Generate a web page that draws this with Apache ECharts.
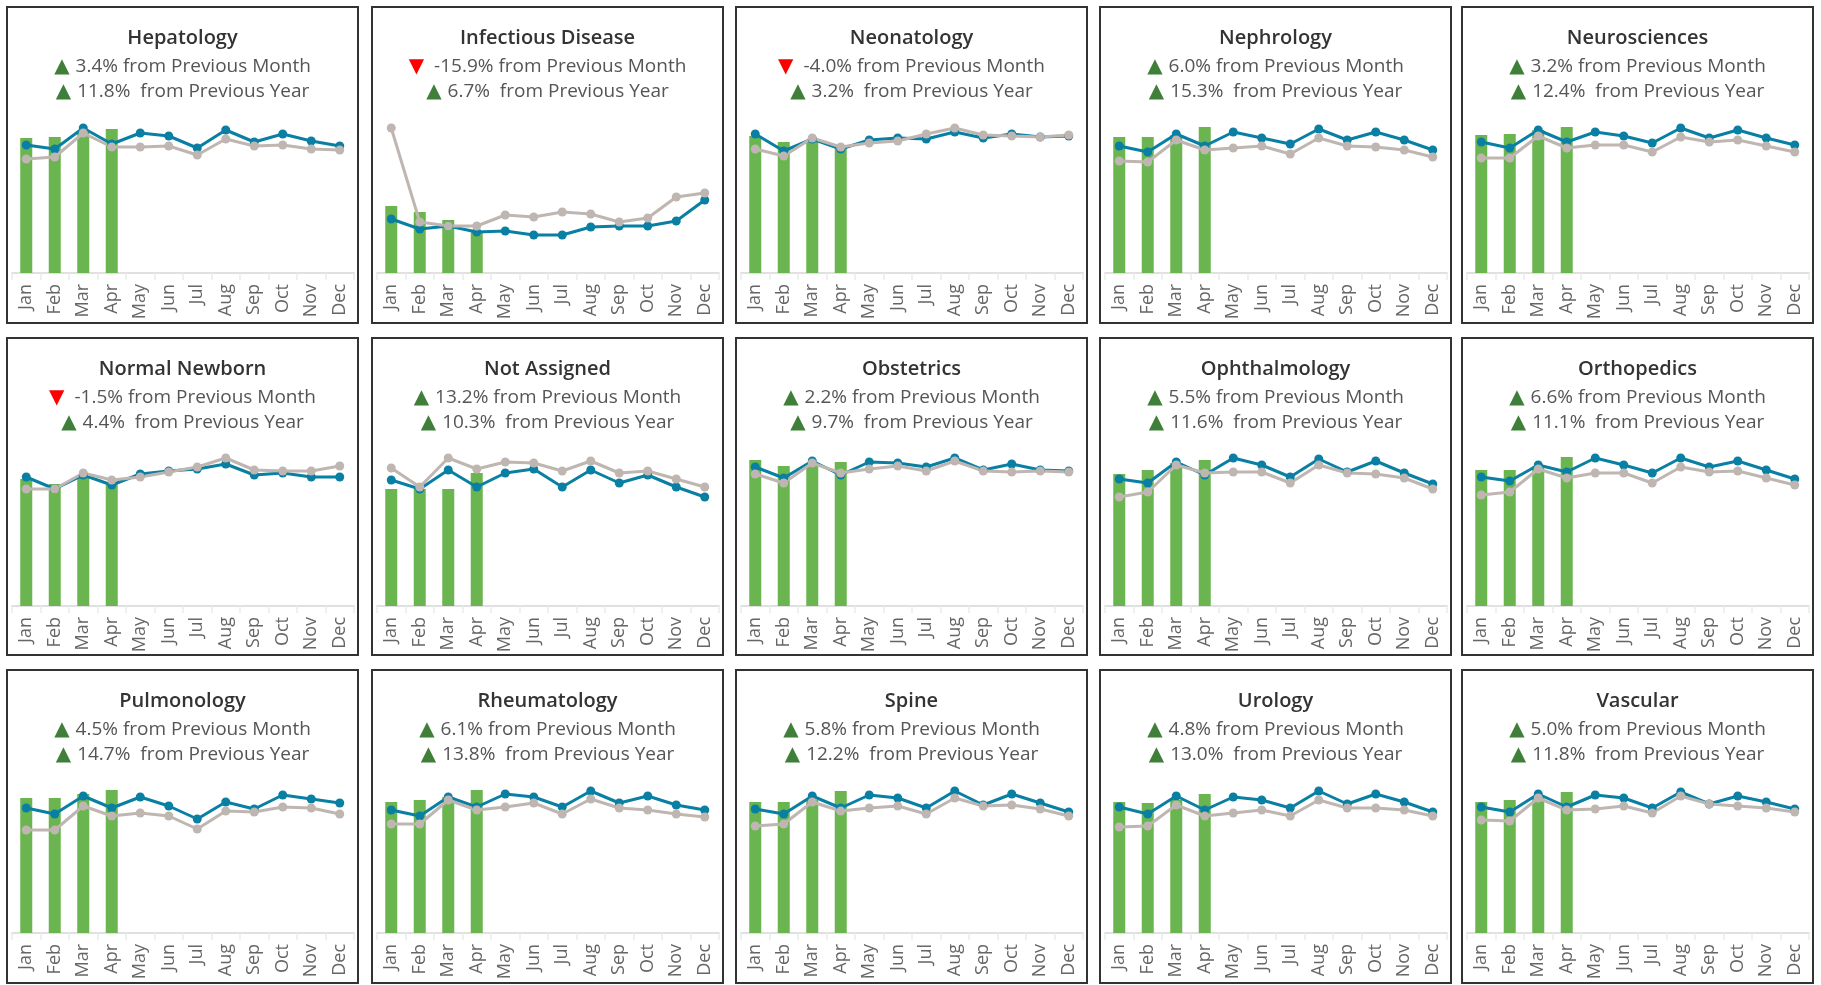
<!DOCTYPE html>
<html>
<head>
<meta charset="utf-8">
<script src="https://cdn.jsdelivr.net/npm/echarts@6/dist/echarts.min.js"></script>
<style>
html, body { margin: 0; padding: 0; background: #fff; }
#main { width: 1821px; height: 985px; }
</style>
</head>
<body>
<div id="main"></div>
<script>
var months = ['Jan', 'Feb', 'Mar', 'Apr', 'May', 'Jun', 'Jul', 'Aug', 'Sep', 'Oct', 'Nov', 'Dec'];

var departments = ['Hepatology', 'Infectious Disease', 'Neonatology', 'Nephrology', 'Neurosciences',
    'Normal Newborn', 'Not Assigned', 'Obstetrics', 'Ophthalmology', 'Orthopedics',
    'Pulmonology', 'Rheumatology', 'Spine', 'Urology', 'Vascular'];

// % change shown in the header of each panel
var monthChange = [3.4, -15.9, -4.0, 6.0, 3.2, -1.5, 13.2, 2.2, 5.5, 6.6, 4.5, 6.1, 5.8, 4.8, 5.0];
var yearChange = [11.8, 6.7, 3.2, 15.3, 12.4, 4.4, 10.3, 9.7, 11.6, 11.1, 14.7, 13.8, 12.2, 13.0, 11.8];

// actual volume (bars, Jan-Apr only)
var actual = [
    [135, 136, 141, 144],
    [67, 61, 53, 41],
    [137, 131, 133, 125],
    [136, 136, 138, 146],
    [138, 139, 143, 146],
    [127, 122, 131, 124],
    [117, 117, 117, 133],
    [146, 140, 143, 144],
    [132, 136, 143, 146],
    [136, 136, 140, 149],
    [135, 135, 139, 143],
    [131, 133, 136, 143],
    [131, 131, 133, 142],
    [131, 130, 133, 139],
    [131, 133, 136, 141]
];

// blue line
var target = [
    [128, 124, 145, 129, 140, 137, 125, 143, 131, 139, 132, 127],
    [54, 44, 47, 41, 42, 38, 38, 46, 47, 47, 52, 73],
    [139, 122, 134, 124, 133, 135, 134, 141, 135, 139, 136, 137],
    [127, 121, 139, 127, 141, 135, 129, 144, 133, 141, 133, 123],
    [131, 125, 143, 131, 141, 137, 130, 145, 135, 143, 135, 128],
    [129, 117, 131, 121, 132, 135, 137, 142, 131, 133, 129, 129],
    [126, 117, 136, 119, 133, 137, 119, 136, 123, 131, 119, 109],
    [139, 128, 145, 131, 144, 143, 139, 148, 136, 142, 136, 135],
    [127, 123, 144, 131, 148, 141, 129, 147, 134, 145, 133, 122],
    [129, 125, 141, 134, 148, 141, 133, 148, 139, 145, 136, 127],
    [125, 119, 137, 125, 136, 127, 114, 131, 124, 138, 134, 130],
    [123, 117, 136, 126, 139, 136, 126, 142, 130, 137, 128, 123],
    [124, 119, 137, 125, 138, 135, 125, 142, 128, 139, 130, 121],
    [126, 119, 137, 123, 136, 133, 125, 142, 129, 139, 131, 121],
    [126, 121, 139, 126, 138, 135, 125, 141, 129, 137, 131, 124]
];

// gray line
var priorYear = [
    [114, 116, 140, 126, 126, 127, 118, 134, 127, 128, 124, 123],
    [145, 51, 47, 47, 58, 56, 61, 59, 51, 55, 76, 80],
    [124, 117, 135, 126, 130, 132, 139, 145, 138, 137, 136, 138],
    [112, 111, 133, 123, 125, 127, 119, 135, 127, 126, 123, 116],
    [115, 115, 137, 125, 128, 128, 121, 136, 131, 133, 127, 121],
    [117, 117, 133, 126, 129, 134, 139, 148, 136, 135, 135, 140],
    [138, 119, 148, 137, 144, 143, 135, 145, 133, 135, 127, 119],
    [132, 123, 143, 133, 137, 140, 135, 145, 135, 134, 135, 134],
    [109, 114, 141, 133, 134, 134, 123, 141, 133, 132, 128, 117],
    [111, 114, 137, 128, 133, 133, 123, 139, 134, 135, 128, 121],
    [103, 103, 127, 117, 120, 117, 104, 122, 121, 126, 125, 119],
    [109, 109, 133, 123, 126, 130, 119, 134, 125, 123, 119, 116],
    [107, 109, 131, 122, 125, 127, 119, 135, 127, 128, 124, 117],
    [106, 107, 128, 117, 120, 123, 117, 133, 125, 125, 123, 117],
    [113, 112, 135, 123, 124, 127, 120, 137, 129, 127, 125, 121]
];

var colLeft = [7, 372, 736, 1100, 1462];
var rowTop = [7, 338, 670];
var rowBase = [273, 606, 933];
var panelW = 351, panelH = [316, 317, 313];

var myChart = echarts.init(document.getElementById('main'));

function fmt(v) { return v.toFixed(1); }
function arrow(v) { return v >= 0 ? '{up|▲}' : '{dn|▼}'; }

var titles = [], grids = [], xAxes = [], yAxes = [], series = [], boxes = [];

departments.forEach(function (name, i) {
    var col = i % 5, row = Math.floor(i / 5);
    var L = colLeft[col], T = rowTop[row], base = rowBase[row];

    boxes.push({
        type: 'rect',
        shape: { x: L, y: T, width: panelW, height: panelH[row] },
        style: { fill: 'none', stroke: '#333', lineWidth: 2 },
        silent: true
    });

    titles.push({
        left: L + panelW / 2,
        top: T + 16,
        textAlign: 'center',
        padding: 0,
        text: '{t|' + name + '}\n' +
            arrow(monthChange[i]) + '{v|' + fmt(monthChange[i]) + '% from Previous Month}\n' +
            arrow(yearChange[i]) + '{v|' + fmt(yearChange[i]) + '%  from Previous Year}',
        textStyle: {
            fontWeight: 'normal',
            rich: {
                t: { fontSize: 20, fontWeight: 600, color: '#333', lineHeight: 31, fontFamily: 'Open Sans' },
                v: { fontSize: 19, fontWeight: 'normal', color: '#555', lineHeight: 25, fontFamily: 'Open Sans' },
                up: { fontSize: 20, color: '#3f7f3a', lineHeight: 25, padding: [0, 6, 0, 0], fontFamily: 'DejaVu Sans' },
                dn: { fontSize: 20, color: '#ff0000', lineHeight: 25, padding: [0, 10, 0, 0], fontFamily: 'DejaVu Sans' }
            }
        }
    });

    grids.push({ left: L + 5, width: 342, top: base - 170, height: 170 });

    xAxes.push({
        type: 'category',
        gridIndex: i,
        data: months,
        axisLine: { lineStyle: { color: '#e0e0e0', width: 2 } },
        axisTick: { show: true, length: 7, lineStyle: { color: '#ebebeb', width: 1.5 } },
        axisLabel: { rotate: 90, interval: 0, margin: 11, fontSize: 18, color: '#666', fontFamily: 'Open Sans' }
    });

    yAxes.push({
        type: 'value',
        gridIndex: i,
        min: 0,
        max: 170,
        show: false,
        splitLine: { show: false }
    });

    series.push({
        type: 'bar',
        xAxisIndex: i,
        yAxisIndex: i,
        data: actual[i],
        barWidth: 12,
        itemStyle: { color: '#6ab54f' },
        silent: true
    });
    series.push({
        type: 'line',
        xAxisIndex: i,
        yAxisIndex: i,
        data: target[i],
        symbol: 'circle',
        symbolSize: 9,
        lineStyle: { color: '#0a7fa4', width: 3 },
        itemStyle: { color: '#0a7fa4' },
        silent: true
    });
    series.push({
        type: 'line',
        xAxisIndex: i,
        yAxisIndex: i,
        data: priorYear[i],
        symbol: 'circle',
        symbolSize: 9,
        lineStyle: { color: '#bfb6b1', width: 3 },
        itemStyle: { color: '#bfb6b1' },
        silent: true
    });
});

var option = {
    animation: false,
    backgroundColor: '#fff',
    title: titles,
    grid: grids,
    xAxis: xAxes,
    yAxis: yAxes,
    series: series,
    graphic: boxes
};

myChart.setOption(option);
</script>
</body>
</html>
